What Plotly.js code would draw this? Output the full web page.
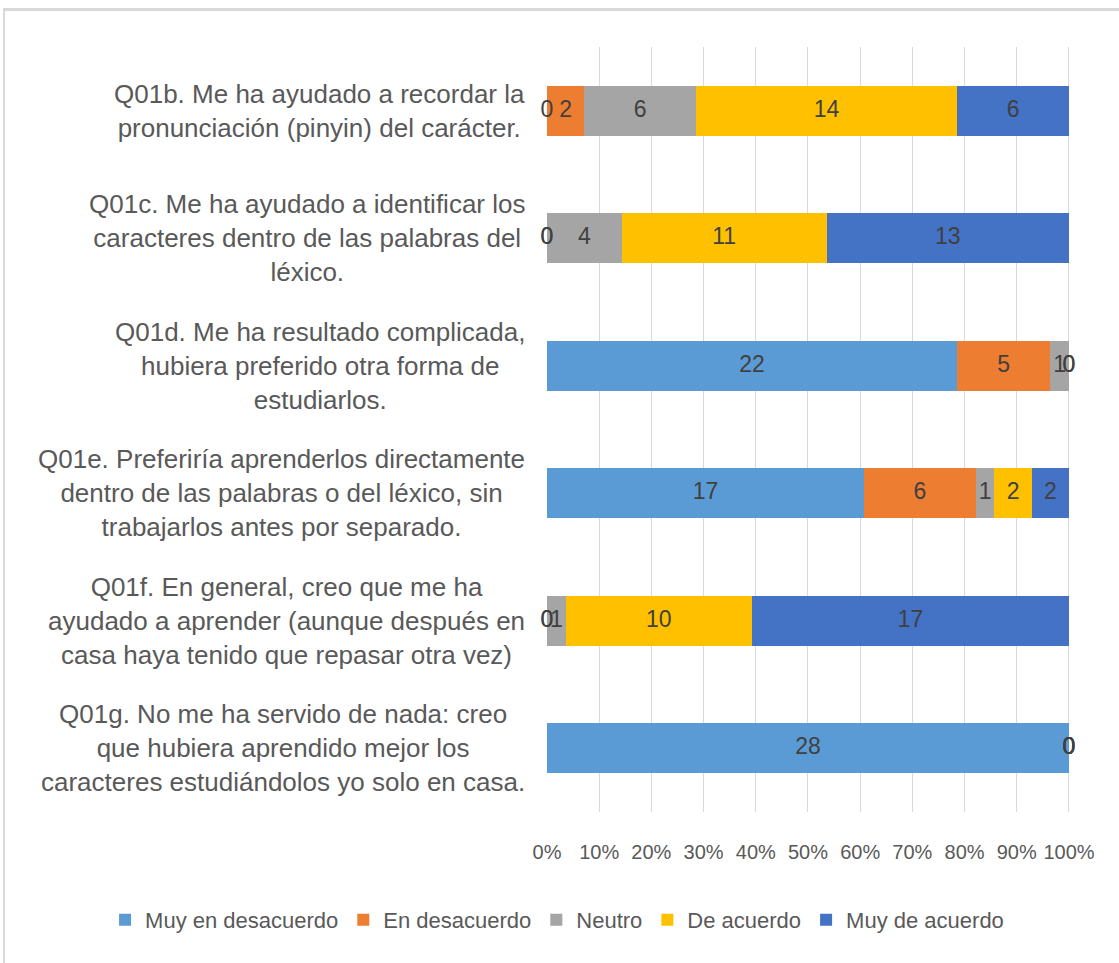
<!DOCTYPE html>
<html>
<head>
<meta charset="utf-8">
<script src="https://cdn.plot.ly/plotly-3.0.1.min.js"></script>
<style>
html,body{margin:0;padding:0;background:#fff;overflow:hidden;}
#chart{position:absolute;left:0;top:0;width:1119px;height:963px;}
#frame{position:absolute;left:3px;top:8px;width:1200px;height:1000px;border-left:2px solid #d9d9d9;border-top:3px solid #d9d9d9;pointer-events:none;}
</style>
</head>
<body>
<div id="chart"></div>
<div id="frame"></div>
<script>
const categories = ["Q01b", "Q01c", "Q01d", "Q01e", "Q01f", "Q01g"];
const categoryLabels = [
  "Q01b. Me ha ayudado a recordar la<br>pronunciación (pinyin) del carácter.",
  "Q01c. Me ha ayudado a identificar los<br>caracteres dentro de las palabras del<br>léxico.",
  "Q01d. Me ha resultado complicada,<br>hubiera preferido otra forma de<br>estudiarlos.",
  "Q01e. Preferiría aprenderlos directamente<br>dentro de las palabras o del léxico, sin<br>trabajarlos antes por separado.",
  "Q01f. En general, creo que me ha<br>ayudado a aprender (aunque después en<br>casa haya tenido que repasar otra vez)",
  "Q01g. No me ha servido de nada: creo<br>que hubiera aprendido mejor los<br>caracteres estudiándolos yo solo en casa."
];
const seriesNames = ["Muy en desacuerdo", "En desacuerdo", "Neutro", "De acuerdo", "Muy de acuerdo"];
const muyEnDesacuerdo = [0, 0, 22, 17, 0, 28];
const enDesacuerdo   = [2, 0, 5, 6, 0, 0];
const neutro         = [6, 4, 1, 1, 1, 0];
const deAcuerdo      = [14, 11, 0, 2, 10, 0];
const muyDeAcuerdo   = [6, 13, 0, 2, 17, 0];
const seriesColors = ["#5B9BD5", "#ED7D31", "#A5A5A5", "#FFC000", "#4472C4"];
const xTickVals = [0,10,20,30,40,50,60,70,80,90,100];
const xTickText = ["0%","10%","20%","30%","40%","50%","60%","70%","80%","90%","100%"];

const series = [muyEnDesacuerdo, enDesacuerdo, neutro, deAcuerdo, muyDeAcuerdo];
const totals = categories.map((c,i)=>series.reduce((s,a)=>s+a[i],0));
const FONT = "Liberation Sans, Arial, sans-serif";

const traces = [];
series.forEach((vals, k) => {
  traces.push({
    type: "bar", orientation: "h", name: seriesNames[k],
    y: categories, x: vals.map((v,i)=>v/totals[i]*100),
    marker: {color: seriesColors[k]},
    hoverinfo: "skip"
  });
});
// data labels
const lx = [], ly = [], lt = [];
categories.forEach((c,i) => {
  let cum = 0;
  series.forEach((vals,k) => {
    const w = vals[i]/totals[i]*100;
    lx.push(cum + w/2); ly.push(c); lt.push(String(vals[i]));
    cum += w;
  });
});
traces.push({
  type: "scatter", mode: "text", x: lx, y: ly, text: lt,
  textposition: "middle center",
  textfont: {family: FONT, size: 23, color: "#404040"},
  showlegend: false, hoverinfo: "skip", cliponaxis: false
});

const annotations = categories.map((c,i)=>({
  xref: "paper", yref: "y", x: 0, y: c, xshift: -20,
  xanchor: "right", yanchor: "middle", align: "center",
  text: categoryLabels[i], showarrow: false,
  font: {family: FONT, size: 26, color: "#595959"}
}));

const layout = {
  width: 1119, height: 963,
  margin: {l: 547, r: 49, t: 47, b: 151},
  paper_bgcolor: "rgba(0,0,0,0)", plot_bgcolor: "rgba(0,0,0,0)",
  barmode: "stack", bargap: 0.61,
  showlegend: true,
  legend: {orientation: "h", x: -0.845, xanchor: "left", y: -0.141, yanchor: "middle",
    font: {family: FONT, size: 22, color: "#595959"},
    traceorder: "normal", itemwidth: 30, bgcolor: "rgba(0,0,0,0)"},
  xaxis: {range: [0, 100.2], tickvals: xTickVals, ticktext: xTickText,
    showgrid: true, gridcolor: "#d9d9d9", gridwidth: 1, zeroline: false, showline: false,
    ticks: "", ticklabelstandoff: 26,
    tickfont: {family: FONT, size: 20, color: "#595959"}},
  yaxis: {type: "category", categoryorder: "array", categoryarray: categories,
    autorange: "reversed", showticklabels: false, showgrid: false, zeroline: false, ticks: ""},
  annotations: annotations,
  font: {family: FONT}
};
Plotly.newPlot("chart", traces, layout, {staticPlot: true});
</script>
</body>
</html>
